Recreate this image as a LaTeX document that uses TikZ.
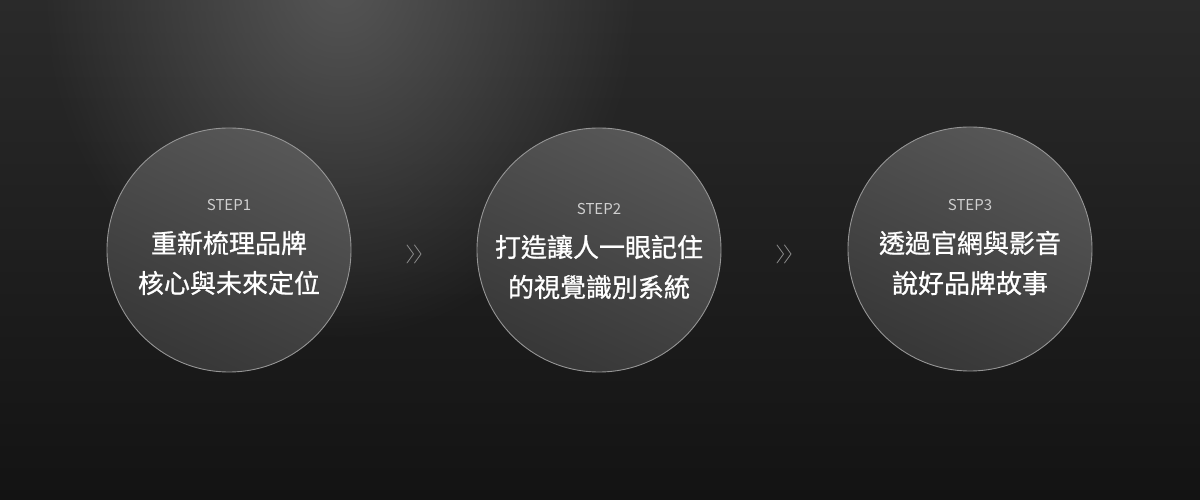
\documentclass[tikz,border=0pt]{standalone}
\usepackage{fontspec}
\setmainfont{Noto Sans CJK TC}
\newfontfamily\cjkmid{Noto Sans CJK TC}[FakeBold=0.9,AutoFakeBold=0.9]
\usepackage{tikz}
\usetikzlibrary{fadings}
\usetikzlibrary{shadings}

\definecolor{bgtop}{HTML}{2A2A2A}
\definecolor{bgbot}{HTML}{131313}
\definecolor{glow}{HTML}{5A5A5A}
\definecolor{disclight}{HTML}{575757}
\definecolor{discdark}{HTML}{373737}
\definecolor{discrim}{HTML}{959595}
\definecolor{steptext}{HTML}{CFCFCF}
\definecolor{chev}{HTML}{8A8A8A}

\tikzfading[name=glowfade,inner color=transparent!0,outer color=transparent!100]

\tikzset{
  disc/.style={circle,minimum size=244pt,inner sep=0pt,draw=discrim,line width=0.9pt,
    top color=disclight,bottom color=discdark,shading angle=-25},
  steplabel/.style={text=steptext,font=\fontsize{15}{18}\selectfont},
  stepbody/.style={text=white,align=center,font=\cjkmid\fontsize{26}{40}\selectfont},
  chevline/.style={draw=chev,line width=0.8pt,line cap=round,line join=miter}
}

\begin{document}
\begin{tikzpicture}[line cap=round,line join=round,x=1pt,y=1pt]
\useasboundingbox (0,0) rectangle (1200,500);
% background
\shade [top color=bgtop,bottom color=bgbot] (0,0) rectangle (1200,500);
\begin{scope}
\clip (0,0) rectangle (1200,500);
\fill [glow,path fading=glowfade,opacity=0.9] (340,520) ellipse (300 and 360);
\end{scope}
% circles
\node [disc] (s1) at (229,250) {};
\node [disc] (s2) at (599,250) {};
\node [disc] (s3) at (970,251) {};
\node [steplabel] (h1) at (229,295) {STEP1};
\node [steplabel] (h2) at (599,290.5) {STEP2};
\node [steplabel] (h3) at (970,295) {STEP3};
\node [stepbody] (b1) at (229,237) {重新梳理品牌\\核心與未來定位};
\node [stepbody] (b2) at (599,233) {打造讓人一眼記住\\的視覺識別系統};
\node [stepbody] (b3) at (970,237) {透過官網與影音\\說好品牌故事};
% chevrons
\draw [chevline] (407,255)-- (413.5,246)-- (407,237);
\draw [chevline] (414.5,255)-- (421,246)-- (414.5,237);
\draw [chevline] (777,255)-- (783.5,246)-- (777,237);
\draw [chevline] (784.5,255)-- (791,246)-- (784.5,237);
\end{tikzpicture}
\end{document}
